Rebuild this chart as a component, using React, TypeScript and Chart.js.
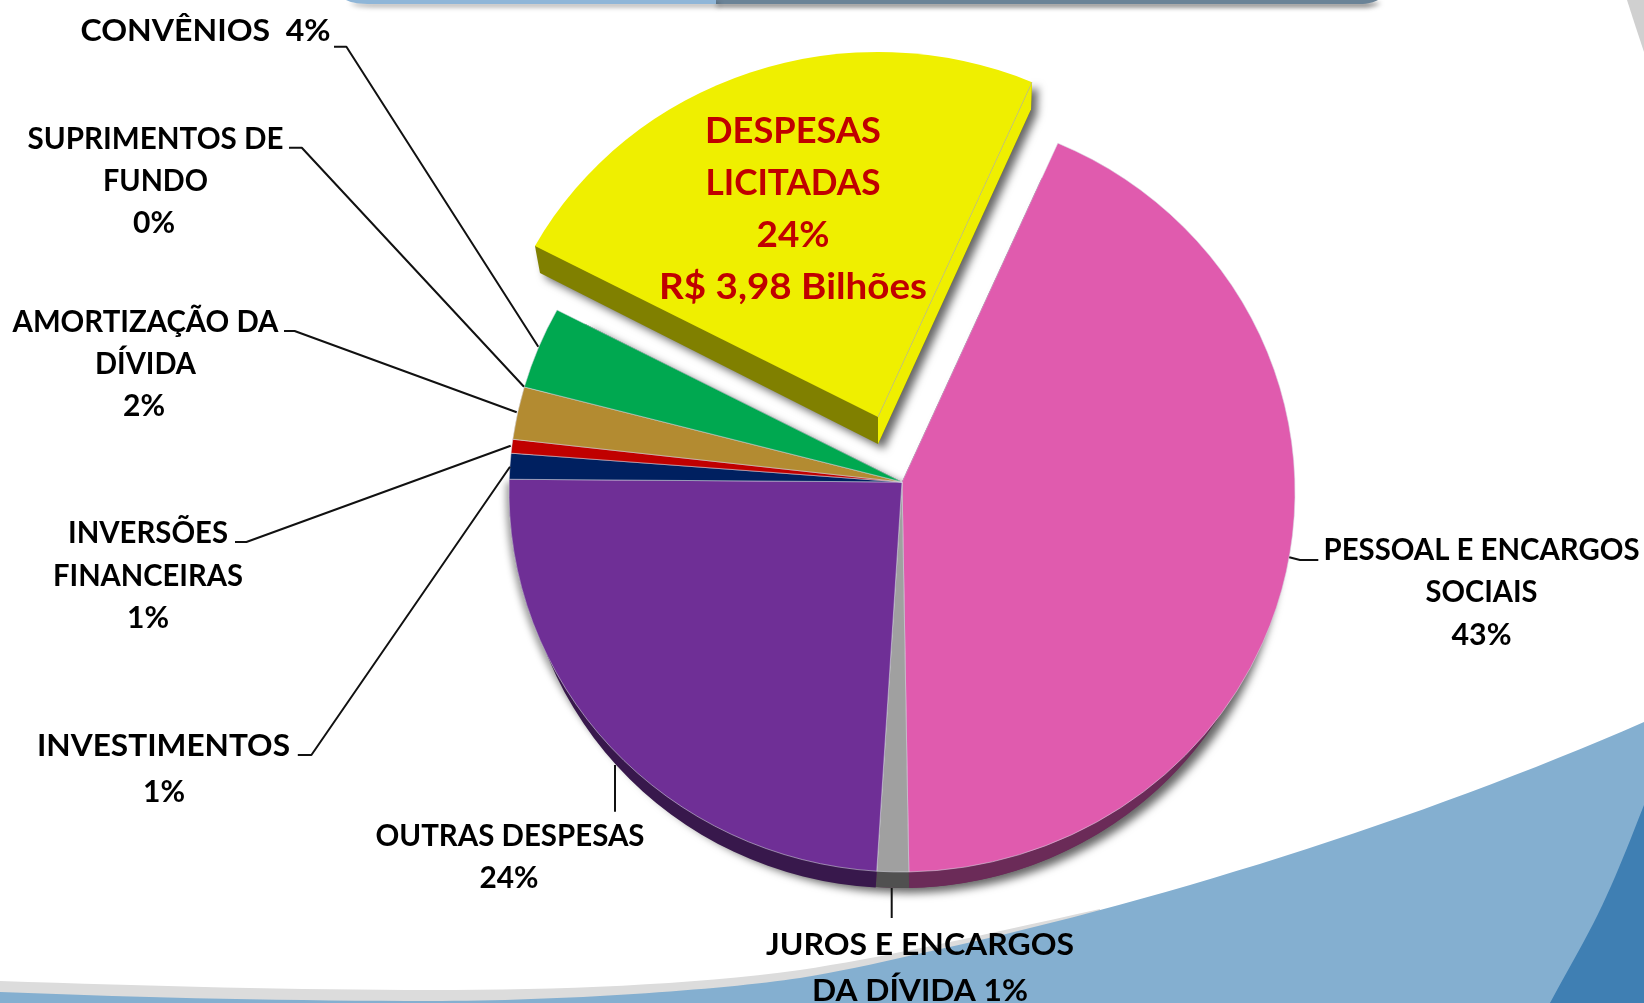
import React, { useEffect, useRef } from "react";
import { Chart, registerables } from "chart.js";

Chart.register(...registerables);

// ---- data ----
const categories = [
  "PESSOAL E ENCARGOS SOCIAIS",
  "JUROS E ENCARGOS DA DÍVIDA",
  "OUTRAS DESPESAS",
  "INVESTIMENTOS",
  "INVERSÕES FINANCEIRAS",
  "AMORTIZAÇÃO DA DÍVIDA",
  "CONVÊNIOS",
  "DESPESAS LICITADAS",
];
const shares = [42.86, 1.31, 24.08, 1.06, 0.57, 2.18, 3.44, 24.5];
const topColors = ["#E05BAE", "#A0A0A0", "#6F2F96", "#002060", "#C00000", "#B38B31", "#00A850", "#EFEF00"];
const sideColors = ["#6B2B58", "#505050", "#38184C", "#001030", "#600000", "#594518", "#005428", "#808000"];
const EXPLODED_INDEX = 7;
const LEFT_WALL_INDEX = 2;

// ---- text: [text, centre x, baseline y, fitted width] ----
const LABEL_FONT = 'bold 31px Lato, "Noto Sans", sans-serif';
const labelLines: [string, number, number, number][] = [
  ["CONVÊNIOS  4%", 205.5, 41, 250],
  ["SUPRIMENTOS DE", 155.5, 148.5, 256],
  ["FUNDO", 155.5, 191, 105],
  ["0%", 154, 233, 42],
  ["AMORTIZAÇÃO DA", 145.5, 331.5, 266],
  ["DÍVIDA", 145.5, 374, 101],
  ["2%", 144, 416, 42],
  ["INVERSÕES", 148, 543, 160],
  ["FINANCEIRAS", 148, 585.5, 190],
  ["1%", 148, 628, 42],
  ["INVESTIMENTOS", 163.5, 755.5, 253],
  ["1%", 164, 802, 42],
  ["OUTRAS DESPESAS", 510, 846, 269],
  ["24%", 509, 888, 59],
  ["JUROS E ENCARGOS", 920, 955, 308],
  ["DA DÍVIDA 1%", 920, 1000.5, 216],
  ["PESSOAL E ENCARGOS", 1481.5, 559.5, 316],
  ["SOCIAIS", 1481.5, 602, 112],
  ["43%", 1481.5, 644.5, 60],
];
const CALLOUT_FONT = 'bold 36px Lato, "Noto Sans", sans-serif';
const calloutLines: [string, number, number, number][] = [
  ["DESPESAS", 793, 143, 176],
  ["LICITADAS", 793, 194.5, 175],
  ["24%", 793, 247, 73],
  ["R$ 3,98 Bilhões", 793, 298.5, 268],
];
const leaders: number[][][] = [
  [[334, 46.7], [346.4, 46.7], [538.3, 346.7]],
  [[289, 147.7], [301.8, 147.7], [524, 386.7]],
  [[284, 331], [294.6, 331], [516.7, 412.3]],
  [[235, 542], [246.4, 542], [510.7, 445.7]],
  [[297.8, 755], [311.4, 755], [510, 466.7]],
  [[615, 765], [615, 811.7]],
  [[891.7, 888], [891.7, 918]],
  [[1289.3, 557.3], [1300, 560], [1318.3, 560]],
];

// ---- slide decoration ----
const GRAY_BAND = "M0 981 C150 986 300 990 430 990 C560 990 690 985 800 970 C880 958 970 938 1100 909 L1100 1003 L0 1003 Z";
const LIGHT_BLUE =
  "M0 992 C150 998 300 1001 430 1001 C560 1001 720 990 800 978 C835 972 875 964 913 955 C1150 905 1420 820 1644 722 L1644 1003 L0 1003 Z";
const DARK_BLUE = "M1644 805 C1632 835 1610 895 1583 943 C1572 963 1560 984 1550 1003 L1644 1003 Z";
const TOP_LEFT_BAR = "M346 0 C352 3 360 4 372 4 L716 4 L716 0 Z";
const TOP_DARK_BAR = "M714 0 L714 4 L1360 4 C1368 4 1374 2 1378 0 Z";
const CORNER = "M1627 0 L1644 0 L1644 52 C1638 34 1632 16 1627 0 Z";

const PIE_GEOM = { cxShift: 0, cyShift: 10, rx: 393, ry: 380 };
const WALL_GEOM = { cxShift: 0, cyShift: 38, rx: 375, ry: 368 };
const LEFT_WALL_GEOM = { cxShift: -6, cyShift: 38, rx: 375, ry: 368 };
const CUT_GEOM = { cxShift: 0, dx: -24, dy: -65, cyShift: 8, rx: 391, ry: 373, depth: 27 };

function rimPoint(ax: number, ay: number, g: any, angle: number) {
  const ux = -g.cxShift / g.rx;
  const uy = -g.cyShift / g.ry;
  const vx = Math.cos(angle) / g.rx;
  const vy = Math.sin(angle) / g.ry;
  const a = vx * vx + vy * vy;
  const b = 2 * (ux * vx + uy * vy);
  const c = ux * ux + uy * uy - 1;
  const t = (-b + Math.sqrt(b * b - 4 * a * c)) / (2 * a);
  return { x: ax + t * Math.cos(angle), y: ay + t * Math.sin(angle), param: Math.atan2(uy + t * vy, ux + t * vx) };
}

function wedge(ctx: CanvasRenderingContext2D, ax: number, ay: number, g: any, start: number, end: number) {
  const s = rimPoint(ax, ay, g, start);
  const e = rimPoint(ax, ay, g, end);
  ctx.beginPath();
  ctx.moveTo(ax, ay);
  ctx.ellipse(ax + g.cxShift, ay + g.cyShift, g.rx, g.ry, 0, s.param, e.param, false);
  ctx.closePath();
}

function drawText(ctx: CanvasRenderingContext2D, lines: [string, number, number, number][], font: string, color: string) {
  ctx.font = font;
  ctx.fillStyle = color;
  ctx.textAlign = "left";
  ctx.textBaseline = "alphabetic";
  for (const [text, x, y, w] of lines) {
    const m = ctx.measureText(text).width;
    ctx.save();
    ctx.translate(x - w / 2, y);
    ctx.scale(w / m, 1);
    ctx.fillText(text, 0, 0);
    ctx.restore();
  }
}

const slidePlugin = {
  id: "slide",
  beforeDraw(chart: any) {
    const ctx = chart.ctx as CanvasRenderingContext2D;
    ctx.save();
    ctx.fillStyle = "#FFFFFF";
    ctx.fillRect(0, 0, chart.width, chart.height);
    ctx.fillStyle = "#D0D0D0";
    ctx.fill(new Path2D(CORNER));
    ctx.fillStyle = "#DCDCDC";
    ctx.fill(new Path2D(GRAY_BAND));
    ctx.fillStyle = "#84AFD0";
    ctx.fill(new Path2D(LIGHT_BLUE));
    ctx.fillStyle = "#3F7FB3";
    ctx.fill(new Path2D(DARK_BLUE));
    ctx.shadowColor = "rgba(0,0,0,0.6)";
    ctx.shadowBlur = 5;
    ctx.shadowOffsetY = 3;
    ctx.shadowOffsetX = 3;
    ctx.fillStyle = "#6A8397";
    ctx.fill(new Path2D(TOP_DARK_BAR));
    ctx.shadowColor = "rgba(0,0,0,0.35)";
    ctx.fillStyle = "#8FB6D8";
    ctx.fill(new Path2D(TOP_LEFT_BAR));
    ctx.restore();
  },
};

function setShadow(ctx: CanvasRenderingContext2D) {
  ctx.shadowColor = "rgba(0,0,0,0.6)";
  ctx.shadowBlur = 9;
  ctx.shadowOffsetX = 6;
  ctx.shadowOffsetY = 5;
}

const piePlugin = {
  id: "pie3d",
  beforeDatasetDraw(chart: any) {
    const ctx = chart.ctx as CanvasRenderingContext2D;
    const arcs = chart.getDatasetMeta(0).data as any[];
    const whole = arcs.filter((_, i) => i !== EXPLODED_INDEX);
    const cut = arcs[EXPLODED_INDEX];
    const ax = arcs[0].x;
    const ay = arcs[0].y;
    const wallOf = (i: number) => (i === LEFT_WALL_INDEX ? LEFT_WALL_GEOM : WALL_GEOM);
    ctx.save();
    ctx.lineJoin = "round";

    // the pie without the pulled-out slice: shadow and side wall
    ctx.save();
    ctx.shadowColor = "rgba(0,0,0,0.4)";
    ctx.shadowBlur = 7;
    ctx.shadowOffsetX = -3;
    ctx.shadowOffsetY = 3;
    ctx.fillStyle = sideColors[LEFT_WALL_INDEX];
    wedge(ctx, ax, ay, PIE_GEOM, arcs[LEFT_WALL_INDEX].startAngle, arcs[LEFT_WALL_INDEX].endAngle);
    ctx.fill();
    ctx.restore();
    ctx.save();
    setShadow(ctx);
    ctx.fillStyle = sideColors[0];
    wedge(ctx, ax, ay, WALL_GEOM, whole[0].startAngle, whole[whole.length - 1].endAngle);
    ctx.fill();
    ctx.restore();
    whole.forEach((arc) => {
      const i = arcs.indexOf(arc);
      ctx.fillStyle = sideColors[i];
      wedge(ctx, ax, ay, wallOf(i), arc.startAngle, arc.endAngle);
      ctx.fill();
    });
    // slice tops
    whole.forEach((arc) => {
      wedge(ctx, ax, ay, PIE_GEOM, arc.startAngle, arc.endAngle);
      ctx.fillStyle = arc.options.backgroundColor;
      ctx.fill();
      ctx.strokeStyle = "rgba(215,215,225,0.55)";
      ctx.lineWidth = 1;
      ctx.stroke();
    });

    // pulled-out slice
    const cx = ax + CUT_GEOM.dx;
    const cy = ay + CUT_GEOM.dy;
    const d = CUT_GEOM.depth;
    const left = rimPoint(cx, cy, CUT_GEOM, cut.startAngle);
    const right = rimPoint(cx, cy, CUT_GEOM, cut.endAngle);
    ctx.save();
    setShadow(ctx);
    ctx.fillStyle = sideColors[EXPLODED_INDEX];
    ctx.beginPath();
    ctx.moveTo(left.x, left.y);
    ctx.lineTo(left.x + 5, left.y + d);
    ctx.lineTo(cx, cy + d);
    ctx.lineTo(right.x - 1, right.y + d);
    ctx.lineTo(right.x, right.y);
    ctx.closePath();
    ctx.fill();
    ctx.restore();
    ctx.fillStyle = cut.options.backgroundColor;
    ctx.beginPath();
    ctx.moveTo(cx, cy);
    ctx.lineTo(right.x, right.y);
    ctx.lineTo(right.x - 1, right.y + d);
    ctx.lineTo(cx, cy + d);
    ctx.closePath();
    ctx.fill();
    wedge(ctx, cx, cy, CUT_GEOM, cut.startAngle, cut.endAngle);
    ctx.fill();
    ctx.strokeStyle = "rgba(190,190,170,0.7)";
    ctx.lineWidth = 1;
    ctx.beginPath();
    ctx.moveTo(cx, cy);
    ctx.lineTo(right.x, right.y);
    ctx.stroke();
    ctx.restore();
    return false;
  },
  afterDraw(chart: any) {
    const ctx = chart.ctx as CanvasRenderingContext2D;
    ctx.save();
    ctx.strokeStyle = "#111111";
    ctx.lineWidth = 2;
    ctx.lineJoin = "round";
    for (const path of leaders) {
      ctx.beginPath();
      path.forEach(([x, y], i) => (i ? ctx.lineTo(x, y) : ctx.moveTo(x, y)));
      ctx.stroke();
    }
    drawText(ctx, labelLines, LABEL_FONT, "#000000");
    drawText(ctx, calloutLines, CALLOUT_FONT, "#C00000");
    ctx.restore();
  },
};

export default function App() {
  const ref = useRef<HTMLCanvasElement | null>(null);
  useEffect(() => {
    document.body.style.margin = "0";
    const chart = new Chart(ref.current as HTMLCanvasElement, {
      type: "pie",
      data: {
        labels: categories,
        datasets: [{ data: shares, backgroundColor: topColors, borderWidth: 0 }],
      },
      options: {
        animation: false,
        responsive: false,
        rotation: 24.7,
        radius: 393,
        layout: { padding: { left: 160, bottom: 39 } },
        plugins: { legend: { display: false }, tooltip: { enabled: false } },
      },
      plugins: [slidePlugin, piePlugin],
    } as any);
    return () => chart.destroy();
  }, []);
  return <canvas ref={ref} width={1644} height={1003} style={{ display: "block" }} />;
}
